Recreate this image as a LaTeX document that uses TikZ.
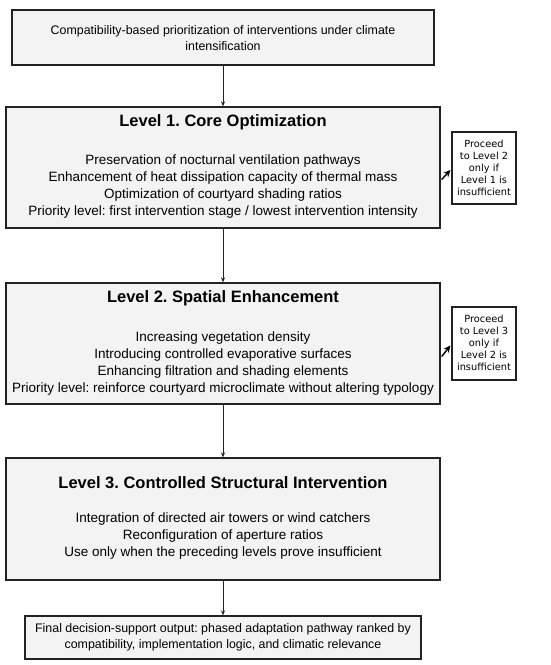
\documentclass[tikz,border=0pt]{standalone}
\usepackage{fontspec}
\setmainfont{Liberation Sans}
\newfontfamily\dvsans{DejaVu Sans}
\usetikzlibrary{arrows.meta,calc}
\definecolor{boxfill}{HTML}{F3F3F3}
\definecolor{boxline}{HTML}{222222}
\frenchspacing
\tikzset{
  mainbox/.style={draw=boxline,line width=1.3pt,fill=boxfill,inner sep=0pt},
  sidebox/.style={draw=boxline,line width=1.1pt,fill=white,inner sep=0pt},
  bodytext/.style={align=center,font=\fontsize{13.5}{17}\selectfont,inner sep=0pt},
  titletext/.style={align=center,font=\fontsize{16.5}{18}\selectfont\bfseries,inner sep=0pt},
  smalltext/.style={align=center,font=\fontsize{12.4}{15.5}\selectfont,inner sep=0pt},
  sidetext/.style={align=center,font=\dvsans\fontsize{9.8}{12}\selectfont,inner sep=0pt},
  downarr/.style={draw=boxline,line width=0.6pt,-{Stealth[length=5pt,width=4pt]}},
  sidearr/.style={draw=black,line width=1.4pt,-{Stealth[length=7pt,width=6.5pt]}}
}
\begin{document}
\begin{tikzpicture}[x=1pt,y=-1pt]
\useasboundingbox (0,0) rectangle (550,665);
% top box
\node[mainbox,minimum width=422pt,minimum height=55pt] (top) at (223,37.5) {};
\node[smalltext] (toptext) at (223,38) {Compatibility-based prioritization of interventions under climate\\intensification};
% level 1
\node[mainbox,minimum width=434pt,minimum height=121pt] (l1) at (223,167.5) {};
\node[titletext] (l1title) at (223,122) {Level 1. Core Optimization};
\node[bodytext] (l1body) at (223,186.5) {Preservation of nocturnal ventilation pathways\\Enhancement of heat dissipation capacity of thermal mass\\Optimization of courtyard shading ratios\\Priority level: first intervention stage / lowest intervention intensity};
% side 1
\node[sidebox,minimum width=64pt,minimum height=72pt] (s1) at (484,168) {};
\node[sidetext] (s1text) at (484,167.5) {Proceed\\to Level 2\\only if\\Level 1 is\\insufficient};
% level 2
\node[mainbox,minimum width=434pt,minimum height=121pt] (l2) at (223,343.5) {};
\node[titletext] (l2title) at (223,298) {Level 2. Spatial Enhancement};
\node[bodytext] (l2body) at (223,363.5) {Increasing vegetation density\\Introducing controlled evaporative surfaces\\Enhancing filtration and shading elements\\Priority level: reinforce courtyard microclimate without altering typology};
% side 2
\node[sidebox,minimum width=64pt,minimum height=73pt] (s2) at (484,343.5) {};
\node[sidetext] (s2text) at (484,343) {Proceed\\to Level 3\\only if\\Level 2 is\\insufficient};
% level 3
\node[mainbox,minimum width=434pt,minimum height=122pt] (l3) at (223,519) {};
\node[titletext] (l3title) at (223,483) {Level 3. Controlled Structural Intervention};
\node[bodytext] (l3body) at (223,536) {Integration of directed air towers or wind catchers\\Reconfiguration of aperture ratios\\Use only when the preceding levels prove insufficient};
% final
\node[mainbox,minimum width=396pt,minimum height=43pt] (fin) at (223,637.5) {};
\node[smalltext] (fintext) at (223,637.5) {Final decision-support output: phased adaptation pathway ranked by\\compatibility, implementation logic, and climatic relevance};
% arrows
\draw[downarr] (top.south) -- (l1.north);
\draw[downarr] (l1.south) -- (l2.north);
\draw[downarr] (l2.south) -- (l3.north);
\draw[downarr] (l3.south) -- (fin.north);
\draw[sidearr] ($(l1.east)+(1,12)$) -- ($(s1.west)+(-1,2)$);
\draw[sidearr] ($(l2.east)+(1,13)$) -- ($(s2.west)+(-1,2)$);
\end{tikzpicture}
\end{document}
